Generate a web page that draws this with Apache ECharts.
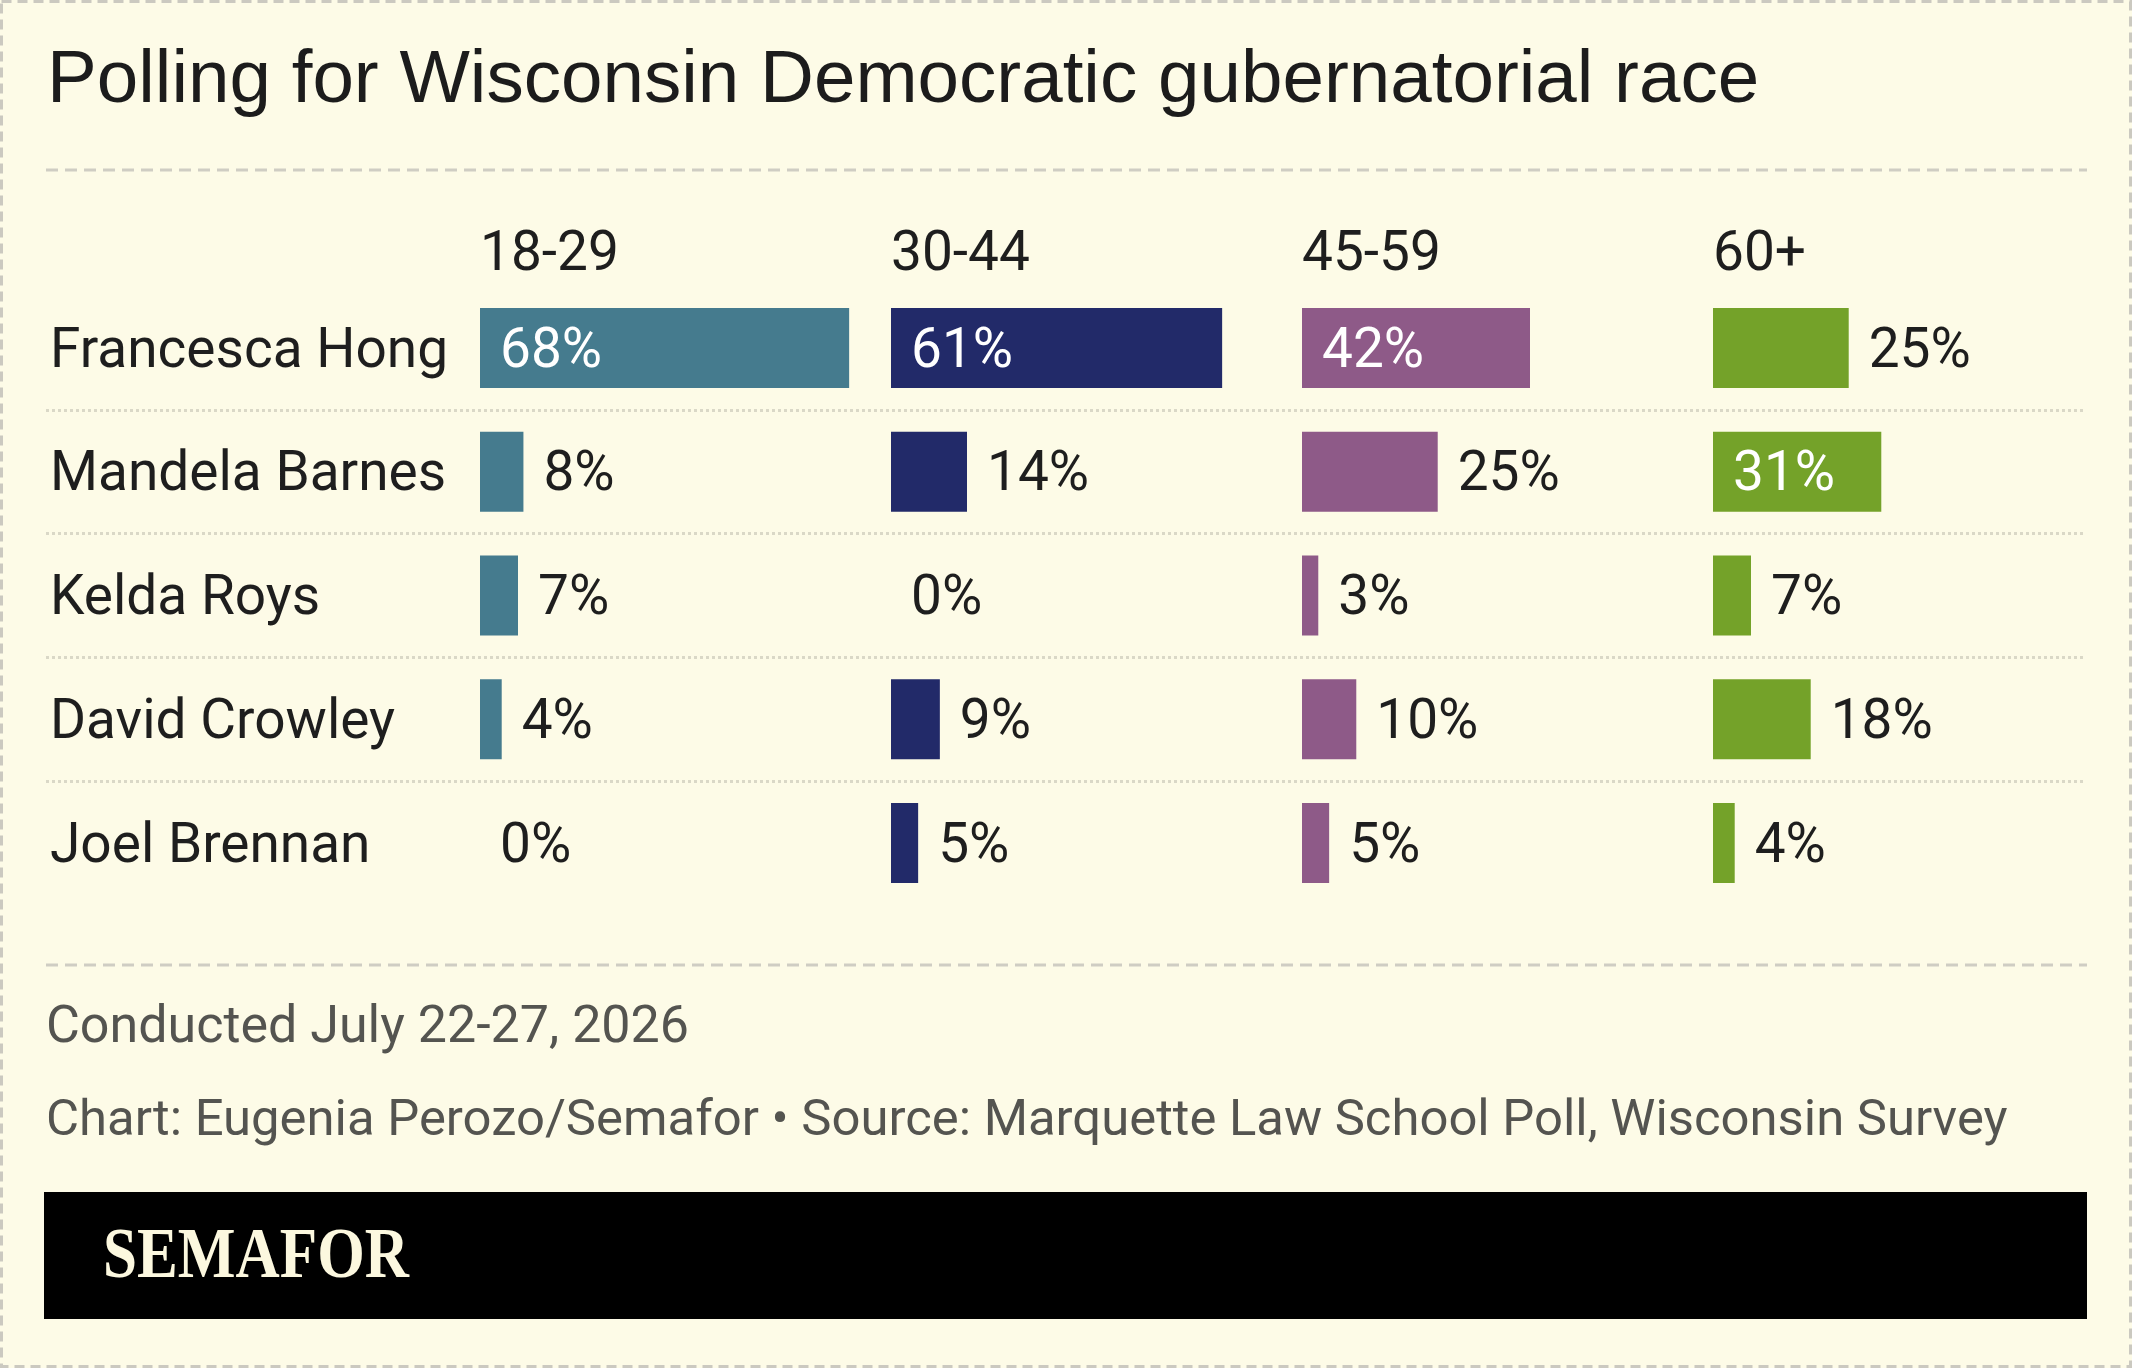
<!DOCTYPE html>
<html>
<head>
<meta charset="utf-8">
<script src="https://cdn.jsdelivr.net/npm/echarts@6.0.0/dist/echarts.min.js"></script>
<style>
html,body{margin:0;padding:0;background:#fdfbe7;}
#main{width:2132px;height:1368px;}
</style>
</head>
<body>
<div id="main"></div>
<script>
// data
var candidates = ['Francesca Hong', 'Mandela Barnes', 'Kelda Roys', 'David Crowley', 'Joel Brennan'];
var ages = ['18-29', '30-44', '45-59', '60+'];
var age18to29 = [68, 8, 7, 4, 0];
var age30to44 = [61, 14, 0, 9, 5];
var age45to59 = [42, 25, 3, 10, 5];
var age60plus = [25, 31, 7, 18, 4];
var colors = ['#457b8e', '#222a69', '#8e5a88', '#74a229'];

var columns = [age18to29, age30to44, age45to59, age60plus];

// layout
var FONT = 'Roboto';
var gridTop = 286, gridHeight = 619;
var colLeft = 480, colStep = 411, colWidth = 380;
var ink = '#1e1e1e';

var grids = [], xAxes = [], yAxes = [], series = [];
columns.forEach(function (vals, i) {
    grids.push({ left: colLeft + colStep * i, top: gridTop, width: colWidth, height: gridHeight });
    xAxes.push({ gridIndex: i, type: 'value', min: 0, max: 70, show: false });
    yAxes.push({ gridIndex: i, type: 'category', inverse: true, data: candidates, show: false });
    series.push({
        type: 'bar',
        name: ages[i],
        xAxisIndex: i,
        yAxisIndex: i,
        barWidth: 80,
        itemStyle: { color: colors[i] },
        label: {
            show: true,
            formatter: '{c}%',
            distance: 20,
            offset: [0, 5],
            fontFamily: FONT,
            fontSize: 55
        },
        data: vals.map(function (v) {
            return {
                value: v,
                label: v > 28 ? { position: 'insideLeft', color: '#ffffff' } : { position: 'right', color: ink }
            };
        })
    });
});

// full width grid: candidate names + dotted row separators
grids.push({ left: 46, right: 49, top: gridTop, height: gridHeight });
xAxes.push({ gridIndex: 4, type: 'value', min: 0, max: 1, show: false });
yAxes.push({
    gridIndex: 4, type: 'category', inverse: true, data: candidates,
    axisLine: { show: false }, axisTick: { show: false },
    axisLabel: { inside: true, margin: 4, align: 'left', verticalAlign: 'top', lineHeight: 10,
                 fontFamily: FONT, fontSize: 55, color: ink },
    splitLine: { show: true, showMinLine: false, showMaxLine: false,
        lineStyle: { color: '#dad8c7', width: 3, type: [3, 3] } }
});

var graphics = [
    { type: 'rect', shape: { x: 1.5, y: 1.5, width: 2129, height: 1365 },
      style: { fill: null, stroke: '#cbc9c0', lineWidth: 3, lineDash: [10, 6] } },
    { type: 'text', x: 47, y: 81,
      style: { text: 'Polling for Wisconsin Democratic gubernatorial race', fontFamily: 'Liberation Sans', fontSize: 74.6,
               fill: '#1c1c1c', textAlign: 'left', textVerticalAlign: 'middle', align: 'left', verticalAlign: 'middle' } },
    { type: 'line', shape: { x1: 46, y1: 170, x2: 2087, y2: 170 },
      style: { stroke: '#cfcdc3', lineWidth: 3, lineDash: [12, 7] } },
    { type: 'line', shape: { x1: 46, y1: 965, x2: 2087, y2: 965 },
      style: { stroke: '#cfcdc3', lineWidth: 3, lineDash: [12, 7] } },
    { type: 'text', x: 46, y: 1029,
      style: { text: 'Conducted July 22-27, 2026', fontFamily: FONT, fontSize: 52, fill: '#545450',
               textAlign: 'left', textVerticalAlign: 'middle', align: 'left', verticalAlign: 'middle' } },
    { type: 'text', x: 46, y: 1122,
      style: { text: 'Chart: Eugenia Perozo/Semafor \u2022 Source: Marquette Law School Poll, Wisconsin Survey',
               fontFamily: FONT, fontSize: 50.8, fill: '#545450',
               textAlign: 'left', textVerticalAlign: 'middle', align: 'left', verticalAlign: 'middle' } },
    { type: 'rect', shape: { x: 44, y: 1192, width: 2043, height: 127 }, style: { fill: '#000000' } },
    { type: 'text', x: 103, y: 1258, scaleX: 0.85,
      style: { text: 'SEMAFOR', fontFamily: 'Liberation Serif', fontWeight: 'bold', fontSize: 72, fill: '#fcf8df',
               textAlign: 'left', textVerticalAlign: 'middle', align: 'left', verticalAlign: 'middle' } }
];
ages.forEach(function (a, i) {
    graphics.push({ type: 'text', x: colLeft + colStep * i, y: 256,
        style: { text: a, fontFamily: FONT, fontSize: 55, fill: ink,
                 textAlign: 'left', textVerticalAlign: 'middle', align: 'left', verticalAlign: 'middle' } });
});

var chart = echarts.init(document.getElementById('main'));
chart.setOption({
    backgroundColor: '#fdfbe7',
    animation: false,
    grid: grids,
    xAxis: xAxes,
    yAxis: yAxes,
    series: series,
    graphic: graphics
});
</script>
</body>
</html>
